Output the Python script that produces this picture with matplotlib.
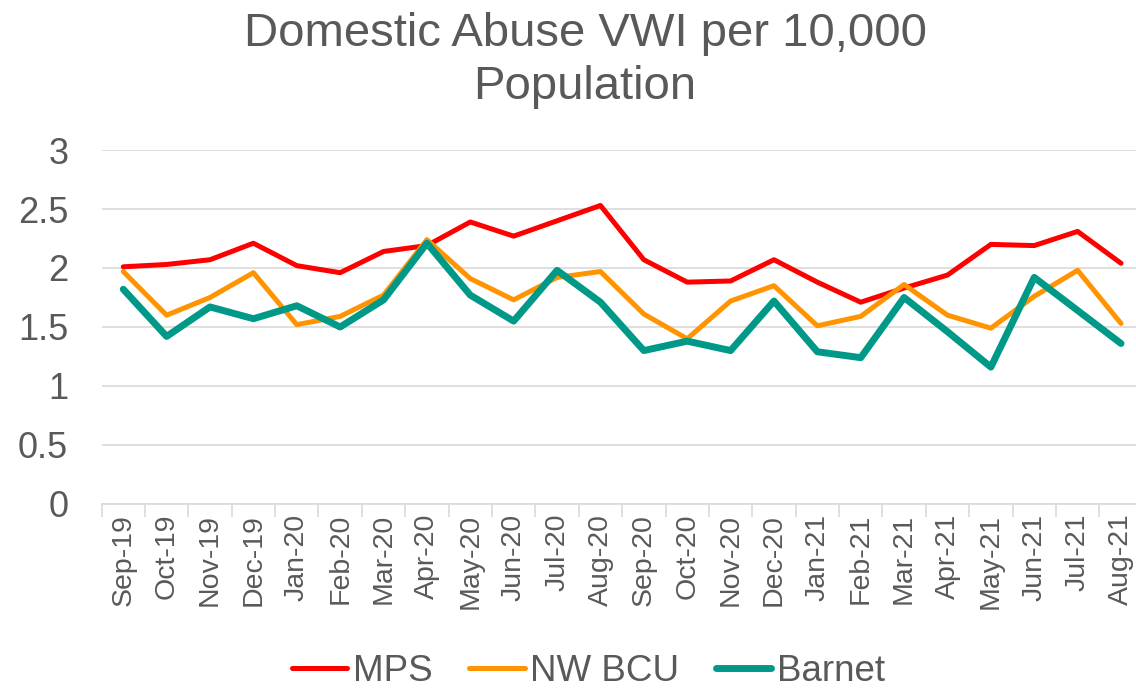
import numpy as np
import matplotlib
matplotlib.use("Agg")
import matplotlib.pyplot as plt

plt.rcParams['font.family'] = ['Liberation Sans', 'DejaVu Sans']

months = ['Sep-19', 'Oct-19', 'Nov-19', 'Dec-19', 'Jan-20', 'Feb-20', 'Mar-20', 'Apr-20',
          'May-20', 'Jun-20', 'Jul-20', 'Aug-20', 'Sep-20', 'Oct-20', 'Nov-20', 'Dec-20',
          'Jan-21', 'Feb-21', 'Mar-21', 'Apr-21', 'May-21', 'Jun-21', 'Jul-21', 'Aug-21']
mps = [2.01, 2.03, 2.07, 2.21, 2.02, 1.96, 2.14, 2.19, 2.39, 2.27, 2.40, 2.53,
       2.07, 1.88, 1.89, 2.07, 1.88, 1.71, 1.83, 1.94, 2.20, 2.19, 2.31, 2.04]
nw_bcu = [1.97, 1.60, 1.75, 1.96, 1.52, 1.59, 1.77, 2.24, 1.91, 1.73, 1.92, 1.97,
          1.61, 1.40, 1.72, 1.85, 1.51, 1.59, 1.86, 1.60, 1.49, 1.76, 1.98, 1.53]
barnet = [1.82, 1.42, 1.67, 1.57, 1.68, 1.50, 1.73, 2.21, 1.77, 1.55, 1.98, 1.71,
          1.30, 1.38, 1.30, 1.72, 1.29, 1.24, 1.75, 1.46, 1.16, 1.92, 1.64, 1.36]

TEXT = '#595959'
GRID = '#d9d9d9'

fig = plt.figure(figsize=(11.36, 6.9), dpi=100)
ax = fig.add_axes([0.0894, 0.2696, 0.9165, 0.513])

x = np.arange(len(months))
style = dict(solid_capstyle='round', solid_joinstyle='round')
ax.plot(x, mps, color='#ff0000', lw=3.6, label='MPS', **style)
ax.plot(x, nw_bcu, color='#ff9400', lw=3.6, label='NW BCU', **style)
ax.plot(x, barnet, color='#009988', lw=5.0, label='Barnet', **style)

ax.set_xlim(-0.5, len(months) - 0.5)
ax.set_ylim(0, 3)
ax.set_yticks(np.arange(0, 3.01, 0.5))
ax.set_yticklabels(['0', '0.5', '1', '1.5', '2', '2.5', '3'])
ax.yaxis.grid(True, color=GRID, lw=1.2)
ax.set_axisbelow(True)

# category ticks sit between months, labels at the months
ax.set_xticks(x)
ax.set_xticklabels(months, rotation=90)
ax.set_xticks(np.arange(-0.5, len(months), 1.0), minor=True)
ax.tick_params(axis='x', which='major', length=0, pad=7, labelsize=20.5, labelcolor=TEXT)
ax.tick_params(axis='x', which='minor', length=9, width=1.2, color=GRID)
ax.tick_params(axis='y', length=0, pad=24, labelsize=26, labelcolor=TEXT)

for side in ['top', 'right', 'left']:
    ax.spines[side].set_visible(False)
ax.spines['bottom'].set_color(GRID)
ax.spines['bottom'].set_linewidth(1.2)

fig.text(0.515, 0.982, 'Domestic Abuse VWI per 10,000\nPopulation', ha='center', va='top',
         fontsize=34, color=TEXT, linespacing=1.25)

leg = fig.legend(loc='center', bbox_to_anchor=(0.518, 0.027), ncol=3, frameon=False,
                 fontsize=26.5, handlelength=1.5, handletextpad=0.15, columnspacing=1.0,
                 borderaxespad=0, borderpad=0)
for t in leg.get_texts():
    t.set_color(TEXT)

fig.savefig('out.png', dpi=100)
